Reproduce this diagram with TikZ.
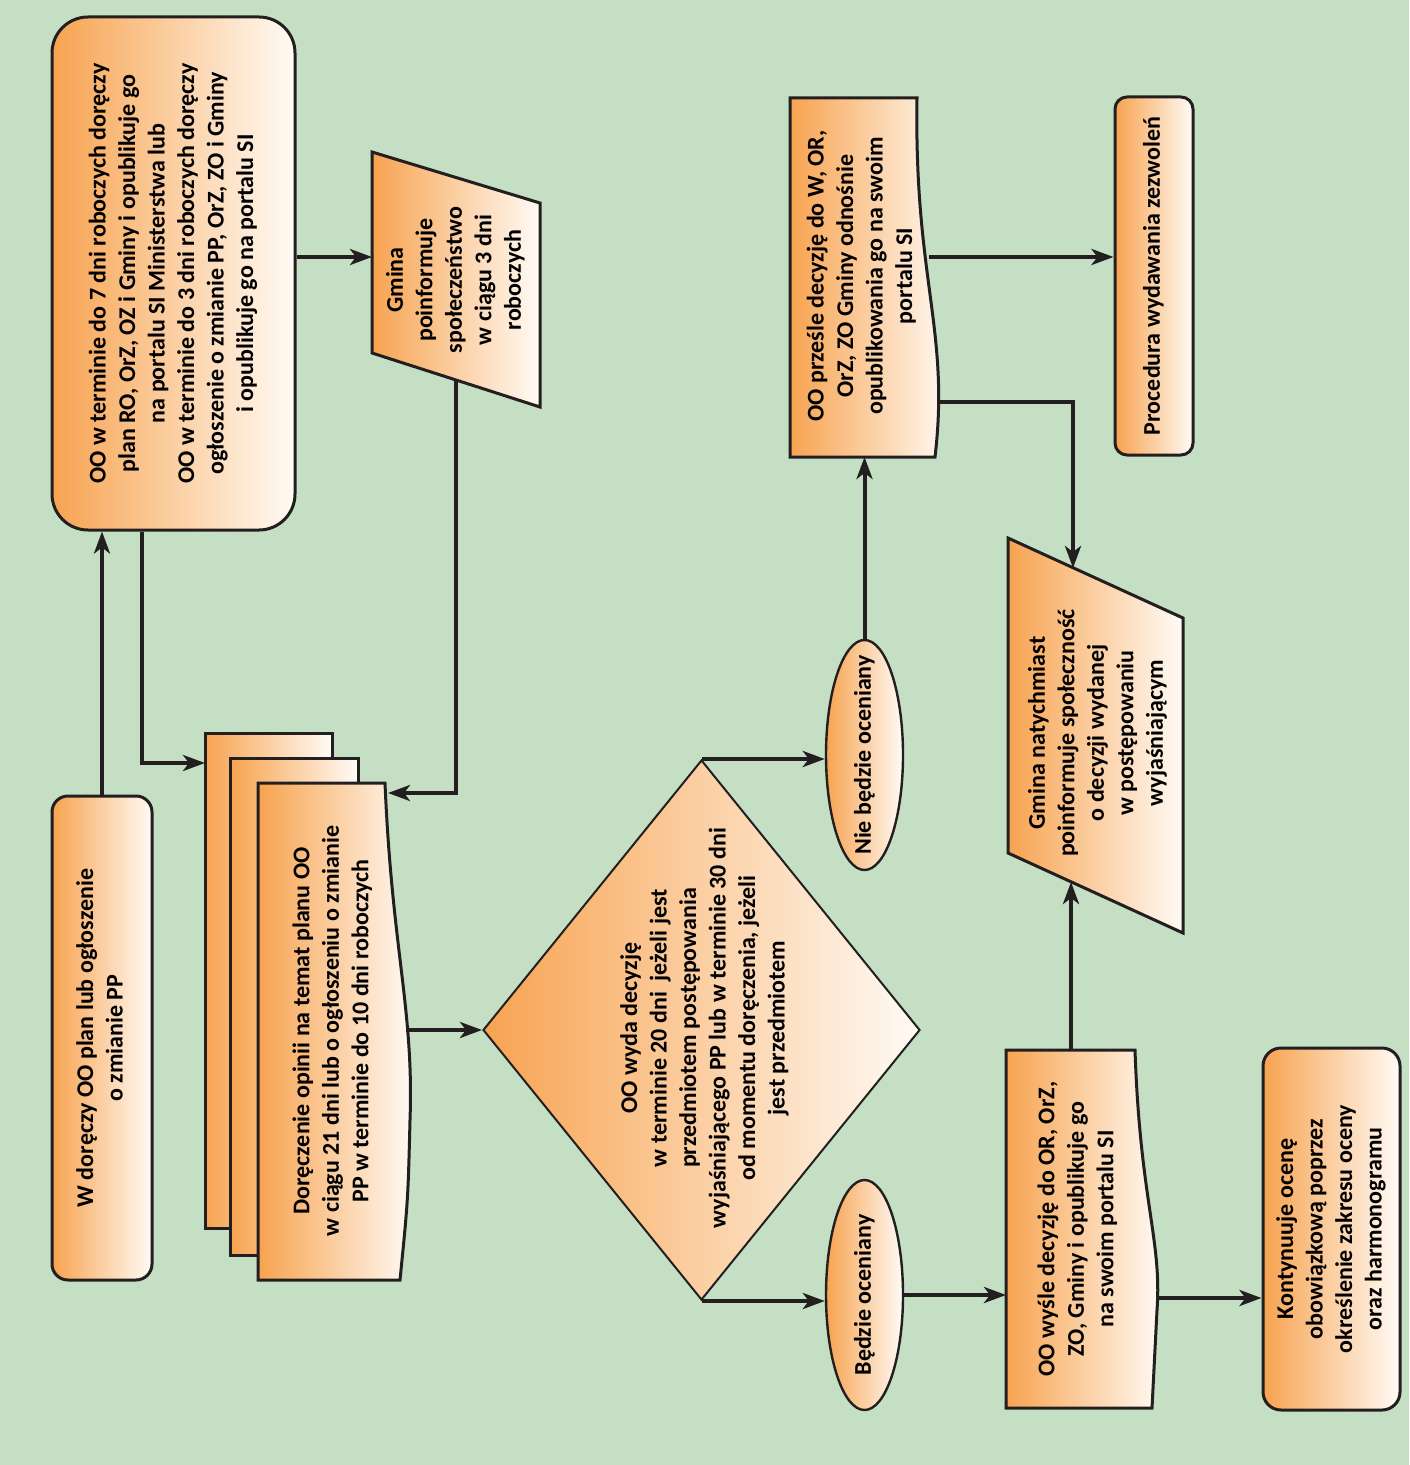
\documentclass[tikz,border=0pt]{standalone}
\usepackage{fontspec}
\setmainfont{Carlito}
\usepackage{graphicx}
\usetikzlibrary{positioning, shapes.geometric, arrows.meta}

\definecolor{bggreen}{RGB}{196,223,195}
\definecolor{boxorange}{RGB}{247,163,80}
\definecolor{boxlight}{RGB}{255,251,246}
\definecolor{edge}{RGB}{35,31,32}

\newcommand{\vtext}[1]{\rotatebox{90}{\begin{tabular}{@{}c@{}}#1\end{tabular}}}

\begin{document}
\begin{tikzpicture}[x=0.5pt, y=-0.5pt,
    every node/.style={font=\fontsize{12}{14.75}\selectfont\bfseries, align=center},
    orangefill/.style={left color=boxorange, right color=boxlight},
    roundbox/.style={draw=edge, line width=1.5pt, orangefill, rounded corners=#1},
    roundbox/.default=8pt,
    docbox/.style={draw=edge, line width=1.5pt, orangefill},
    oval/.style={ellipse, draw=edge, line width=1.2pt, orangefill, minimum width=38.5pt, minimum height=115pt, inner sep=0pt},
    decision/.style={diamond, draw=edge, line width=1pt, orangefill, minimum width=218.5pt, minimum height=270pt, inner sep=0pt},
    link/.style={line width=2pt, draw=edge, -{Stealth[length=11pt, width=8pt, inset=3pt]}}]
    % Background
    \fill[bggreen] (0,0) rectangle (1409,1465);
    \useasboundingbox (0,0) rectangle (1409,1465);
    % Start
    \node[roundbox=18pt, minimum width=121.5pt, minimum height=256.5pt] (plan) at (173.5,273.5) {\vtext{OO w terminie do 7 dni roboczych doręczy\\plan RO, OrZ, OZ i Gminy i opublikuje go\\na portalu SI Ministerstwa lub\\OO w terminie do 3 dni roboczych doręczy\\ogłoszenie o zmianie PP, OrZ, ZO i Gminy\\i opublikuje go na portalu SI}};
    \node[roundbox=8pt, minimum width=50pt, minimum height=242pt] (receive) at (102,1038) {\vtext{W doręczy OO plan lub ogłoszenie\\o zmianie PP}};
    % Gmina informs
    \path[docbox] (372,152) -- (540,203) -- (540,407) -- (372,353) -- cycle;
    \node (inform) at (456,280) {\vtext{Gmina\\poinformuje\\społeczeństwo\\w ciągu 3 dni\\roboczych}};
    \coordinate (informW) at (372,257);
    \coordinate (informS) at (456,380);
    % Opinion stack
    \node[docbox, minimum width=63.5pt, minimum height=247.5pt] (opinion1) at (268.5,980.5) {};
    \node[docbox, minimum width=64pt, minimum height=248.5pt] (opinion2) at (294,1006.5) {};
    \path[docbox] (258,783) -- (385,783) .. controls (392,950) and (414,1010) .. (410,1120) .. controls (408,1200) .. (400,1280) -- (258,1280) -- cycle;
    \node (opinion) at (333,1031) {\vtext{Doręczenie opinii na temat planu OO\\w ciągu 21 dni lub o ogłoszeniu o zmianie\\PP w terminie do 10 dni roboczych}};
    \coordinate (opinionIn) at (205,763);
    \coordinate (opinionNE) at (388,793);
    \coordinate (opinionE) at (406,1030);
    % Decision
    \node[decision] (decide) at (701.5,1030) {};
    \node (decideText) at (705,1028) {\vtext{OO wyda decyzję\\w terminie 20 dni \ jeżeli jest\\przedmiotem postępowania\\wyjaśniającego PP lub w terminie 30 dni\\od momentu doręczenia, jeżeli\\jest przedmiotem}};
    % Branches
    \node[oval] (skip) at (864.5,755) {};
    \node[rotate=90] (skipText) at (skip) {Nie będzie oceniany};
    \node[oval] (assess) at (864.5,1295) {};
    \node[rotate=90] (assessText) at (assess) {Będzie oceniany};
    % Forward decision
    \path[docbox] (790,98) -- (917,98) .. controls (914,280) and (950,330) .. (935,457) -- (790,457) -- cycle;
    \node (forward) at (862,276) {\vtext{OO prześle decyzję do W, OR,\\OrZ, ZO Gminy odnośnie\\opublikowania go na swoim\\portalu SI}};
    \coordinate (forwardS) at (864.5,457);
    \coordinate (forwardE1) at (929,257);
    \coordinate (forwardE2) at (939,402);
    \node[roundbox=6pt, minimum width=39pt, minimum height=179pt] (permits) at (1154,276) {\vtext{Procedura wydawania zezwoleń}};
    % Gmina notifies
    \path[docbox] (1008,538) -- (1183,618) -- (1183,933) -- (1008,853) -- cycle;
    \node (notify) at (1098,733) {\vtext{Gmina natychmiast\\poinformuje społeczność\\o decyzji wydanej\\w postępowaniu\\wyjaśniającym}};
    \coordinate (notifyN) at (1073,568);
    \coordinate (notifyS) at (1071,882);
    % Publish decision
    \path[docbox] (1006,1050) -- (1135,1050) .. controls (1140,1200) and (1162,1240) .. (1157,1310) -- (1152,1408) -- (1006,1408) -- cycle;
    \node (publish) at (1078,1229) {\vtext{OO wyśle decyzję do OR, OrZ,\\ZO, Gminy i opublikuje go\\na swoim portalu SI}};
    \coordinate (publishN) at (1071,1050);
    \coordinate (publishW) at (1006,1295);
    \coordinate (publishE) at (1157,1298);
    \node[roundbox=9pt, minimum width=68.5pt, minimum height=181pt] (continue) at (1331.5,1229) {\vtext{Kontynuuje ocenę\\obowiązkową poprzez\\określenie zakresu oceny\\oraz harmonogramu}};
    % Arrows
    \draw[link] (receive.north) -- (receive.north |- plan.south);
    \draw[link] ([xshift=-15.75pt]plan.south) |- (opinionIn);
    \draw[link] ([yshift=8.25pt]plan.east) -- (informW);
    \draw[link] (informS) |- (opinionNE);
    \draw[link] (opinionE) -- (decide.west);
    \draw[link] (decide.north) -- (decide.north -| skip.west);
    \draw[link] (decide.south) -- (decide.south -| assess.west);
    \draw[link] (skip.north) -- (forwardS);
    \draw[link] (forwardE1) -- (forwardE1 -| permits.west);
    \draw[link] (forwardE2) -| (notifyN);
    \draw[link] (assess.east) -- (assess.east -| publishW);
    \draw[link] (publishN) -- (notifyS);
    \draw[link] (publishE) -- (publishE -| continue.west);
\end{tikzpicture}
\end{document}
